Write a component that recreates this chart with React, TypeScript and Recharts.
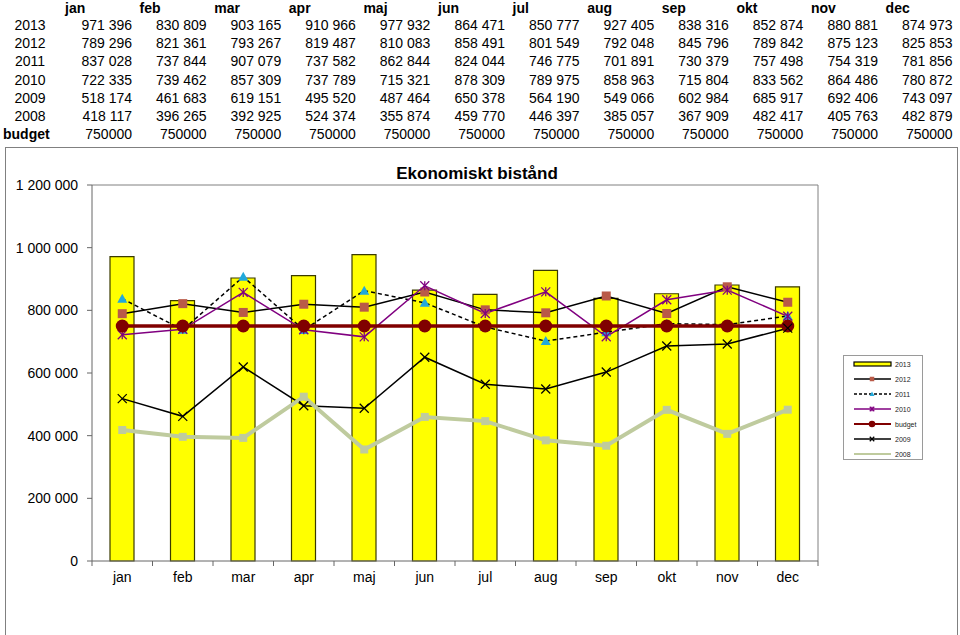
import React from "react";
import {
    Bar,
    CartesianGrid,
    ComposedChart,
    Line,
    XAxis,
    YAxis,
} from "recharts";

const months = ["jan", "feb", "mar", "apr", "maj", "jun", "jul", "aug", "sep", "okt", "nov", "dec"];

const values2013 = [971396, 830809, 903165, 910966, 977932, 864471, 850777, 927405, 838316, 852874, 880881, 874973];
const values2012 = [789296, 821361, 793267, 819487, 810083, 858491, 801549, 792048, 845796, 789842, 875123, 825853];
const values2011 = [837028, 737844, 907079, 737582, 862844, 824044, 746775, 701891, 730379, 757498, 754319, 781856];
const values2010 = [722335, 739462, 857309, 737789, 715321, 878309, 789975, 858963, 715804, 833562, 864486, 780872];
const values2009 = [518174, 461683, 619151, 495520, 487464, 650378, 564190, 549066, 602984, 685917, 692406, 743097];
const values2008 = [418117, 396265, 392925, 524374, 355874, 459770, 446397, 385057, 367909, 482417, 405763, 482879];
const budgetValues = [750000, 750000, 750000, 750000, 750000, 750000, 750000, 750000, 750000, 750000, 750000, 750000];

const yTicks = [0, 200000, 400000, 600000, 800000, 1000000, 1200000];

const FONT = '"Liberation Sans", Arial, sans-serif';

// rows of the table above the chart
const tableRows = [
    { label: "2013", values: values2013 },
    { label: "2012", values: values2012 },
    { label: "2011", values: values2011 },
    { label: "2010", values: values2010 },
    { label: "2009", values: values2009 },
    { label: "2008", values: values2008 },
    { label: "budget", values: budgetValues },
];

const data = months.map((m, i) => ({
    month: m,
    y2013: values2013[i],
    y2012: values2012[i],
    y2011: values2011[i],
    y2010: values2010[i],
    budget: budgetValues[i],
    y2009: values2009[i],
    y2008: values2008[i],
}));

function spaced(v: number) {
    return String(v).replace(/\B(?=(\d{3})+(?!\d))/g, " ");
}

type Kind = "square" | "triangle" | "star" | "circle" | "cross" | "smallSquare";

function Marker({ kind, cx, cy, color, s = 1 }: { kind: Kind; cx: number; cy: number; color: string; s?: number }) {
    if (kind === "square") {
        const h = 4.5 * s;
        return <rect x={cx - h} y={cy - h} width={h * 2} height={h * 2} fill={color} />;
    }
    if (kind === "smallSquare") {
        const h = 4 * s;
        return <rect x={cx - h} y={cy - h} width={h * 2} height={h * 2} fill={color} />;
    }
    if (kind === "triangle") {
        const h = 5 * s;
        return <polygon points={`${cx},${cy - h} ${cx + h},${cy + h * 0.8} ${cx - h},${cy + h * 0.8}`} fill={color} />;
    }
    if (kind === "circle") {
        return <circle cx={cx} cy={cy} r={6.5 * s} fill={color} />;
    }
    const h = 4.5 * s;
    if (kind === "star") {
        return (
            <g stroke={color} strokeWidth={1.3}>
                <line x1={cx - h} y1={cy - h} x2={cx + h} y2={cy + h} />
                <line x1={cx - h} y1={cy + h} x2={cx + h} y2={cy - h} />
                <line x1={cx} y1={cy - h} x2={cx} y2={cy + h} />
            </g>
        );
    }
    return (
        <g stroke={color} strokeWidth={1.3}>
            <line x1={cx - h} y1={cy - h} x2={cx + h} y2={cy + h} />
            <line x1={cx - h} y1={cy + h} x2={cx + h} y2={cy - h} />
        </g>
    );
}

const lineSeries = [
    { key: "y2012", name: "2012", stroke: "#000000", width: 1.5, dash: undefined, marker: "square" as Kind, markerColor: "#B95A48" },
    { key: "y2011", name: "2011", stroke: "#000000", width: 1.5, dash: "4 3", marker: "triangle" as Kind, markerColor: "#22A9DB" },
    { key: "y2010", name: "2010", stroke: "#800080", width: 1.5, dash: undefined, marker: "star" as Kind, markerColor: "#800080" },
    { key: "budget", name: "budget", stroke: "#800000", width: 3.5, dash: undefined, marker: "circle" as Kind, markerColor: "#800000" },
    { key: "y2009", name: "2009", stroke: "#000000", width: 1.5, dash: undefined, marker: "cross" as Kind, markerColor: "#000000" },
    { key: "y2008", name: "2008", stroke: "#BFCB9E", width: 4, dash: undefined, marker: "smallSquare" as Kind, markerColor: "#BFCB9E" },
];

const TICK_SIZE = 5;
const TICK_MARGIN = 6;

// month label plus the tick marks that sit on the category boundaries
function MonthTick(props: any) {
    const { x, y, payload, width, visibleTicksCount, index } = props;
    const half = width / visibleTicksCount / 2;
    const axisY = y - TICK_SIZE - TICK_MARGIN;
    return (
        <g>
            <line x1={x - half} x2={x - half} y1={axisY} y2={axisY + TICK_SIZE} stroke="#666666" />
            {index === visibleTicksCount - 1 && (
                <line x1={x + half} x2={x + half} y1={axisY} y2={axisY + TICK_SIZE} stroke="#666666" />
            )}
            <text x={x} y={y} dy="0.71em" textAnchor="middle" fill="#000" fontSize={14} fontFamily={FONT}>
                {payload.value}
            </text>
        </g>
    );
}

function LegendBox() {
    const rowH = 15;
    return (
        <svg
            width={80}
            height={105}
            style={{ position: "absolute", left: 843, top: 355, border: "1px solid #9a9a9a", boxSizing: "border-box", background: "#fff" }}
        >
            <g>
                <rect x={10} y={6} width={37} height={4} fill="#FFFF00" stroke="#000" strokeWidth={1.2} />
                <text x={51} y={10.5} fontSize={7} fontFamily={FONT} fill="#222">2013</text>
            </g>
            {lineSeries.map((s, i) => {
                const y = 8 + rowH * (i + 1);
                return (
                    <g key={s.key}>
                        <line x1={10} x2={47} y1={y} y2={y} stroke={s.stroke} strokeWidth={s.width > 3 ? 2 : 1.6} strokeDasharray={s.dash ? "3 2" : undefined} />
                        {s.key !== "y2008" && <Marker kind={s.marker} cx={28} cy={y} color={s.markerColor} s={0.5} />}
                        <text x={51} y={y + 2.5} fontSize={7} fontFamily={FONT} fill="#222">{s.name}</text>
                    </g>
                );
            })}
        </svg>
    );
}

export default function App() {
    return (
        <div style={{ position: "absolute", left: 0, top: 0, width: 960, height: 635, background: "#fff", fontFamily: FONT, overflow: "hidden" }}>
            {/* table */}
            {months.map((m, i) => (
                <div
                    key={m}
                    style={{ position: "absolute", left: 132 + 74.6 * i - 67, top: 0, fontSize: 14, fontWeight: "bold", lineHeight: "16px" }}
                >
                    {m}
                </div>
            ))}
            {tableRows.map((row, r) => {
                const top = 25 + 18.2 * r - 8;
                const isBudget = row.label === "budget";
                return (
                    <React.Fragment key={row.label}>
                        <div
                            style={
                                isBudget
                                    ? { position: "absolute", left: 3, top, fontSize: 14, fontWeight: "bold", lineHeight: "16px" }
                                    : { position: "absolute", left: 0, width: 60, textAlign: "center", top, fontSize: 14, lineHeight: "16px" }
                            }
                        >
                            {row.label}
                        </div>
                        {row.values.map((v, i) => (
                            <div
                                key={i}
                                style={{ position: "absolute", left: 132 + 74.6 * i - 90, width: 90, textAlign: "right", top, fontSize: 14, lineHeight: "16px" }}
                            >
                                {isBudget ? String(v) : spaced(v)}
                            </div>
                        ))}
                    </React.Fragment>
                );
            })}

            {/* chart frame */}
            <div style={{ position: "absolute", left: 5, top: 147, width: 953, height: 500, border: "1px solid #808080", boxSizing: "border-box" }} />
            <div style={{ position: "absolute", left: 377, width: 200, textAlign: "center", top: 164, fontSize: 17, fontWeight: "bold", lineHeight: "20px" }}>
                Ekonomiskt bistånd
            </div>

            <div style={{ position: "absolute", left: 0, top: 147 }}>
                <ComposedChart width={960} height={488} data={data} margin={{ top: 38, right: 142, bottom: 44, left: 0 }}>
                    <CartesianGrid
                        stroke="#808080"
                        verticalCoordinatesGenerator={({ offset }: any) => [offset.left + offset.width]}
                        horizontalCoordinatesGenerator={({ offset }: any) => [offset.top]}
                    />
                    <XAxis
                        dataKey="month"
                        height={30}
                        stroke="#666666"
                        tickLine={false}
                        tickSize={TICK_SIZE}
                        tickMargin={TICK_MARGIN}
                        tick={<MonthTick />}
                        interval={0}
                    />
                    <YAxis
                        domain={[0, 1200000]}
                        ticks={yTicks}
                        width={92}
                        tickSize={5}
                        tickMargin={9}
                        tickFormatter={(v: number) => spaced(v)}
                        tick={{ fill: "#000", fontSize: 14, fontFamily: FONT }}
                        stroke="#666666"
                    />
                    <Bar dataKey="y2013" name="2013" fill="#FFFF00" stroke="#3A3A00" strokeWidth={1.2} barSize={24} isAnimationActive={false} />
                    {lineSeries.map((s) => (
                        <Line
                            key={s.key}
                            dataKey={s.key}
                            name={s.name}
                            type="linear"
                            stroke={s.stroke}
                            strokeWidth={s.width}
                            strokeDasharray={s.dash}
                            isAnimationActive={false}
                            activeDot={false}
                            dot={(p: any) => (
                                <Marker key={`${s.key}-${p.index}`} kind={s.marker} cx={p.cx} cy={p.cy} color={s.markerColor} />
                            )}
                        />
                    ))}
                </ComposedChart>
            </div>

            <LegendBox />
        </div>
    );
}
